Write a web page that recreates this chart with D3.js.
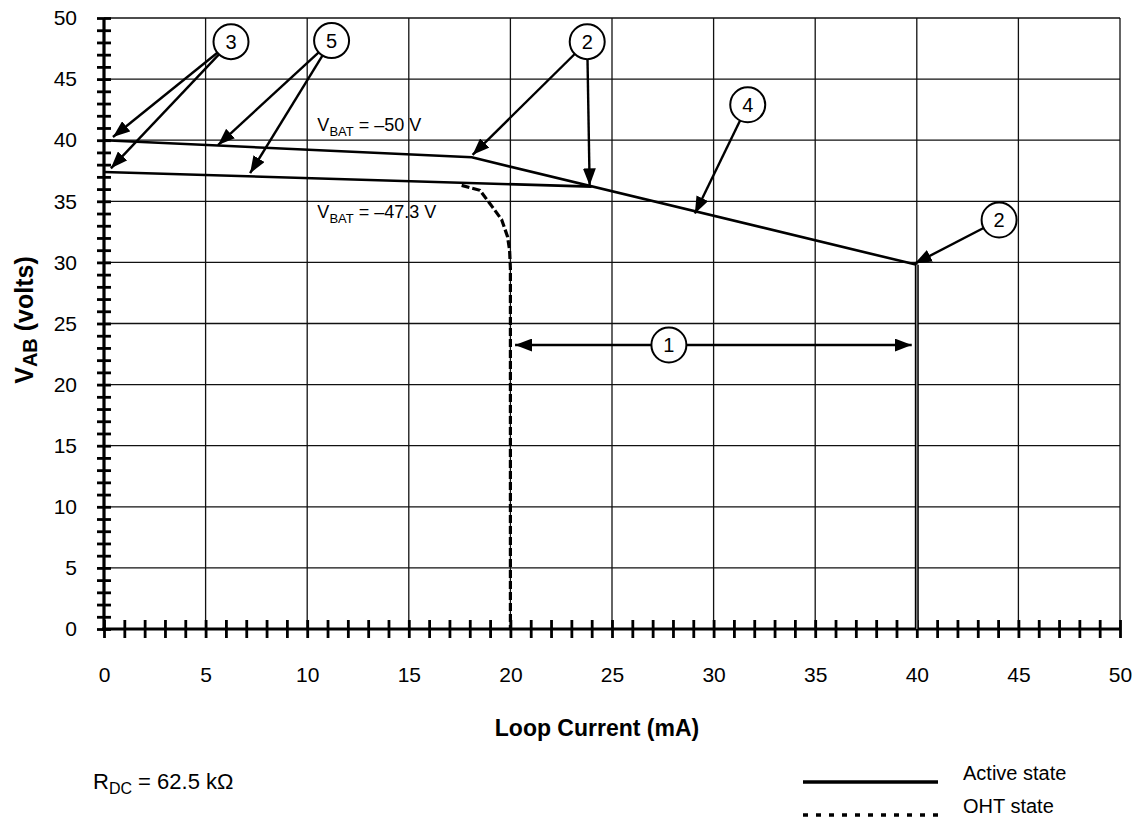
<!DOCTYPE html>
<html>
<head>
<meta charset="utf-8">
<script src="https://cdn.jsdelivr.net/npm/d3@7"></script>
<style>
  body { margin: 0; background: #fff; }
  text { font-family: "Liberation Sans", Arial, Helvetica, sans-serif; }
</style>
</head>
<body>
<div id="chart"></div>
<script>
// data
const vbat50X = [0, 18.1, 40.0];
const vbat50Y = [40.0, 38.6, 29.8];
const vbat47X = [0, 24.0];
const vbat47Y = [37.4, 36.2];
const limitX = [40.0, 40.0];
const limitY = [29.8, 0];
const ohtX = [17.6, 18.5, 19.13, 19.57, 19.86, 19.96, 20.0, 20.0];
const ohtY = [36.3, 35.9, 34.5, 33.5, 32.1, 31.0, 29.5, 0];

const xTicks = d3.range(0, 51, 1);
const yTicks = d3.range(0, 51, 1);
const gridValues = [5, 10, 15, 20, 25, 30, 35, 40, 45, 50];

// numbered callouts
const calloutText = ["3", "5", "2", "4", "2", "1"];
const calloutX = [6.25, 11.2, 23.78, 31.68, 44.05, 27.8];
const calloutY = [48.06, 48.15, 48.06, 42.9, 33.47, 23.24];
// arrows: which callout they leave and where they point
const arrowFrom = [0, 0, 1, 1, 2, 2, 3, 4, 5, 5];
const arrowTipX = [0.44, 0.34, 5.61, 7.19, 18.14, 23.9, 29.08, 39.9, 20.23, 39.75];
const arrowTipY = [40.26, 37.7, 39.6, 37.3, 38.8, 36.3, 34.0, 29.9, 23.24, 23.24];

const width = 1138;
const height = 819;
const margin = ({top: 18, right: 18, bottom: 190, left: 104});

const svg = d3.create('svg')
    .attr('width', width)
    .attr('height', height);

const xScale = d3.scaleLinear()
    .domain([0, 50])
    .range([margin.left, width - margin.right]);

const yScale = d3.scaleLinear()
    .domain([0, 50])
    .range([height - margin.bottom, margin.top]);

const defs = svg.append('defs');
defs.append('marker')
    .attr('id', 'head')
    .attr('viewBox', '0 0 17 13')
    .attr('refX', 17)
    .attr('refY', 6.5)
    .attr('markerWidth', 17)
    .attr('markerHeight', 13)
    .attr('markerUnits', 'userSpaceOnUse')
    .attr('orient', 'auto')
    .append('path')
    .attr('d', 'M0,0 L17,6.5 L0,13 Z')
    .attr('fill', '#000');

// grid
svg.append('g')
    .selectAll('line')
    .data(gridValues)
    .enter().append('line')
    .attr('x1', d => xScale(d))
    .attr('x2', d => xScale(d))
    .attr('y1', yScale(0))
    .attr('y2', yScale(50))
    .attr('stroke', '#111')
    .attr('stroke-width', 1.3);

svg.append('g')
    .selectAll('line')
    .data(gridValues)
    .enter().append('line')
    .attr('x1', xScale(0))
    .attr('x2', xScale(50))
    .attr('y1', d => yScale(d))
    .attr('y2', d => yScale(d))
    .attr('stroke', '#111')
    .attr('stroke-width', 1.3);

// x axis: ticks crossing the axis line
svg.append('g')
    .attr('transform', `translate(0, ${yScale(0) - 9})`)
    .call(d3.axisBottom(xScale).tickValues(xTicks).tickSize(18).tickFormat(''))
    .call(g => g.select('.domain').remove())
    .call(g => g.selectAll('.tick line').attr('stroke-width', 2.8));

svg.append('g')
    .attr('transform', `translate(0, ${yScale(0)})`)
    .call(d3.axisBottom(xScale).tickValues(gridValues.concat([0])).tickSize(0).tickPadding(38))
    .call(g => g.select('.domain').remove())
    .call(g => g.selectAll('text')
        .attr('font-size', 21)
        .attr('font-family', 'Liberation Sans, Arial, sans-serif')
        .attr('fill', '#000'));

svg.append('line')
    .attr('x1', xScale(0) - 2)
    .attr('x2', xScale(50))
    .attr('y1', yScale(0))
    .attr('y2', yScale(0))
    .attr('stroke', '#000')
    .attr('stroke-width', 3.2);

// y axis
svg.append('g')
    .attr('transform', `translate(${xScale(0) + 7}, 0)`)
    .call(d3.axisLeft(yScale).tickValues(yTicks).tickSize(14).tickFormat(''))
    .call(g => g.select('.domain').remove())
    .call(g => g.selectAll('.tick line').attr('stroke-width', 2.8));

svg.append('g')
    .attr('transform', `translate(${xScale(0)}, 0)`)
    .call(d3.axisLeft(yScale).tickValues(gridValues.concat([0])).tickSize(0).tickPadding(27))
    .call(g => g.select('.domain').remove())
    .call(g => g.selectAll('text')
        .attr('font-size', 21)
        .attr('font-family', 'Liberation Sans, Arial, sans-serif')
        .attr('fill', '#000'));

svg.append('line')
    .attr('x1', xScale(0))
    .attr('x2', xScale(0))
    .attr('y1', yScale(0) + 2)
    .attr('y2', yScale(50))
    .attr('stroke', '#000')
    .attr('stroke-width', 3.2);

// curves
const line = d3.line()
    .x(d => xScale(d[0]))
    .y(d => yScale(d[1]));

svg.append('path')
    .attr('d', line(d3.zip(ohtX, ohtY)))
    .attr('fill', 'none')
    .attr('stroke', '#000')
    .attr('stroke-width', 3.2)
    .attr('stroke-dasharray', '8,3');

svg.append('path')
    .attr('d', line(d3.zip(vbat50X, vbat50Y)))
    .attr('fill', 'none')
    .attr('stroke', '#000')
    .attr('stroke-width', 2.6);

svg.append('path')
    .attr('d', line(d3.zip(vbat47X, vbat47Y)))
    .attr('fill', 'none')
    .attr('stroke', '#000')
    .attr('stroke-width', 2.6);

svg.append('path')
    .attr('d', line(d3.zip(limitX, limitY)))
    .attr('fill', 'none')
    .attr('stroke', '#000')
    .attr('stroke-width', 4);
svg.append('path')
    .attr('d', line(d3.zip(limitX, limitY)))
    .attr('fill', 'none')
    .attr('stroke', '#999')
    .attr('stroke-width', 1.2);

// VBAT labels
const vbatLabel = function(xv, yv, rest) {
    const t = svg.append('text')
        .attr('x', xScale(xv))
        .attr('y', yScale(yv))
        .attr('font-size', 18)
        .attr('fill', '#000');
    t.append('tspan').text('V');
    t.append('tspan').attr('font-size', 13).attr('dy', 5).text('BAT');
    t.append('tspan').attr('dy', -5).text(rest);
};
vbatLabel(10.5, 40.75, ' = \u201350 V');
vbatLabel(10.5, 33.6, ' = \u201347.3 V');

// callout arrows
const r = 17.5;
svg.append('g')
    .selectAll('line')
    .data(arrowFrom)
    .enter().append('line')
    .each(function(c, i) {
        const cx = xScale(calloutX[c]), cy = yScale(calloutY[c]);
        const tx = xScale(arrowTipX[i]), ty = yScale(arrowTipY[i]);
        const a = Math.atan2(ty - cy, tx - cx);
        d3.select(this)
            .attr('x1', cx + r * Math.cos(a))
            .attr('y1', cy + r * Math.sin(a))
            .attr('x2', tx)
            .attr('y2', ty);
    })
    .attr('stroke', '#000')
    .attr('stroke-width', 2.4)
    .attr('marker-end', 'url(#head)');

const callouts = svg.append('g')
    .selectAll('g')
    .data(calloutText)
    .enter().append('g')
    .attr('transform', (d, i) => `translate(${xScale(calloutX[i])}, ${yScale(calloutY[i])})`);

callouts.append('circle')
    .attr('r', r)
    .attr('fill', '#fff')
    .attr('stroke', '#000')
    .attr('stroke-width', 2);

callouts.append('text')
    .attr('text-anchor', 'middle')
    .attr('dy', '0.36em')
    .attr('font-size', 20)
    .attr('fill', '#000')
    .text(d => d);

// axis titles
svg.append('text')
    .attr('x', 597)
    .attr('y', 736)
    .attr('text-anchor', 'middle')
    .attr('font-weight', 'bold')
    .attr('font-size', 23)
    .attr('fill', '#000')
    .text('Loop Current (mA)');

const yTitle = svg.append('text')
    .attr('transform', `translate(33, 320) rotate(-90)`)
    .attr('text-anchor', 'middle')
    .attr('font-weight', 'bold')
    .attr('font-size', 25)
    .attr('fill', '#000');
yTitle.append('tspan').text('V');
yTitle.append('tspan').attr('font-size', 20).attr('dy', 4).text('AB');
yTitle.append('tspan').attr('dy', -4).text(' (volts)');

// footnote
const rdc = svg.append('text')
    .attr('x', 93)
    .attr('y', 789)
    .attr('font-size', 22)
    .attr('fill', '#000');
rdc.append('tspan').text('R');
rdc.append('tspan').attr('font-size', 16).attr('dy', 5).text('DC');
rdc.append('tspan').attr('dy', -5).text(' = 62.5 k\u03A9');

// legend
const legendLabels = ['Active state', 'OHT state'];
const legendDash = [null, '5,8'];
const legendY = [782, 815];
const legend = svg.append('g')
    .selectAll('g')
    .data(legendLabels)
    .enter().append('g');
legend.append('line')
    .attr('x1', 803)
    .attr('x2', 938)
    .attr('y1', (d, i) => legendY[i])
    .attr('y2', (d, i) => legendY[i])
    .attr('stroke', '#000')
    .attr('stroke-width', 3.5)
    .attr('stroke-dasharray', (d, i) => legendDash[i]);
legend.append('text')
    .attr('x', 963)
    .attr('y', (d, i) => legendY[i] - 2)
    .attr('font-size', 20)
    .attr('fill', '#000')
    .text(d => d);

document.getElementById('chart').appendChild(svg.node());
</script>
</body>
</html>
